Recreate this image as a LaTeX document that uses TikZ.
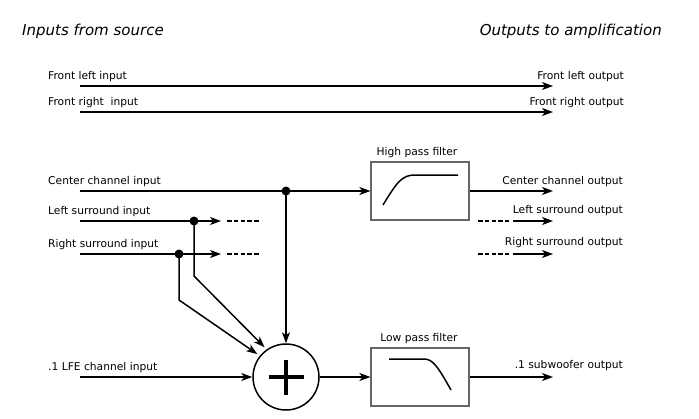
\documentclass[tikz,border=0pt]{standalone}
\usepackage{fontspec}
\setmainfont{DejaVu Sans}
\usetikzlibrary{arrows.meta}
\begin{document}
\begin{tikzpicture}[x=1pt,y=-1pt,
  line/.style={line width=1.5pt},
  arr/.style={line, -{Stealth[length=11pt,width=8pt,inset=3pt]}},
  dsh/.style={line, dash pattern=on 4.5pt off 2.3pt},
  lbl/.style={font=\fontsize{10.7}{12}\selectfont, inner sep=0pt},
  ttl/.style={font=\fontsize{15}{18}\selectfont\itshape, inner sep=0pt},
  filt/.style={draw=black!60, line width=1.2pt, minimum width=98pt, minimum height=58pt, inner sep=0pt},
  dot/.style={circle, fill=black, minimum size=9pt, inner sep=0pt},
]
\useasboundingbox[fill=white] (0,0) rectangle (699,418);

% titles
\node[ttl, anchor=base west] (tin) at (22,35) {Inputs from source};
\node[ttl, anchor=base east] (tout) at (662,35) {Outputs to amplification};

% front left / right
\coordinate (fls) at (80,86);
\coordinate (fle) at (553,86);
\draw[arr] (fls) -- (fle);
\node[lbl, anchor=base west] (fli) at (48,79) {Front left input};
\node[lbl, anchor=base east] (flo) at (624,79) {Front left output};

\coordinate (frs) at (80,112);
\coordinate (fre) at (553,112);
\draw[arr] (frs) -- (fre);
\node[lbl, anchor=base west] (fri) at (48,105) {Front right\ \ input};
\node[lbl, anchor=base east] (fro) at (624,105) {Front right output};

% center channel
\coordinate (ccs) at (80,191);
\node[dot] (cdot) at (286,191) {};
\node[filt] (hpf) at (420,191) {};
\coordinate (cce) at (553,191);
\draw[line] (ccs) -- (cdot.center);
\draw[arr] (cdot.center) -- (hpf.west);
\draw[arr] (hpf.east) -- (cce);
\node[lbl, anchor=base west] (cci) at (48,184) {Center channel input};
\node[lbl, anchor=base east] (cco) at (623,184) {Center channel output};
\node[lbl, anchor=base] (hpfl) at (417,155) {High pass filter};
\draw[line] (383,205) .. controls (397,182) and (402,175) .. (415,175) -- (458,175);

% left surround
\coordinate (lss) at (80,221);
\node[dot] (lsdot) at (194,221) {};
\coordinate (lsa) at (221,221);
\coordinate (lsd1) at (227,221);
\coordinate (lsd2) at (259,221);
\draw[arr] (lss) -- (lsa);
\draw[dsh] (lsd1) -- (lsd2);
\node[lbl, anchor=base west] (lsi) at (48,214) {Left surround input};
\coordinate (lso1) at (478,221);
\coordinate (lso2) at (509,221);
\coordinate (lso3) at (513,221);
\coordinate (lso4) at (553,221);
\draw[dsh] (lso1) -- (lso2);
\draw[arr] (lso3) -- (lso4);
\node[lbl, anchor=base east] (lso) at (623,213) {Left surround output};

% right surround
\coordinate (rss) at (80,254);
\node[dot] (rsdot) at (179,254) {};
\coordinate (rsa) at (221,254);
\coordinate (rsd1) at (227,254);
\coordinate (rsd2) at (259,254);
\draw[arr] (rss) -- (rsa);
\draw[dsh] (rsd1) -- (rsd2);
\node[lbl, anchor=base west] (rsi) at (48,247) {Right surround input};
\coordinate (rso1) at (478,254);
\coordinate (rso2) at (509,254);
\coordinate (rso3) at (513,254);
\coordinate (rso4) at (553,254);
\draw[dsh] (rso1) -- (rso2);
\draw[arr] (rso3) -- (rso4);
\node[lbl, anchor=base east] (rso) at (623,245) {Right surround output};

% summing node
\node[circle, draw, line width=1.5pt, minimum size=66pt, inner sep=0pt] (sum) at (286,377) {};
\draw[line width=4.5pt] ([xshift=-17.5pt]sum.center) -- ([xshift=17.5pt]sum.center);
\draw[line width=4.5pt] ([yshift=-17.5pt]sum.center) -- ([yshift=17.5pt]sum.center);

\coordinate (lsk) at (194,276);
\coordinate (rsk) at (179,300);
\draw[arr, shorten >=3pt] (lsdot.center) -- (lsk) -- (sum.125);
\draw[arr, shorten >=3pt] (rsdot.center) -- (rsk) -- (sum.141);
\draw[arr] (cdot.center) -- (sum.north);

% LFE
\coordinate (lfes) at (80,377);
\draw[arr] (lfes) -- (sum.west);
\node[lbl, anchor=base west] (lfei) at (48,370) {.1 LFE channel input};

\node[filt] (lpf) at (420,377) {};
\coordinate (lfee) at (553,377);
\draw[arr] (sum.east) -- (lpf.west);
\draw[arr] (lpf.east) -- (lfee);
\node[lbl, anchor=base] (lpfl) at (419,341) {Low pass filter};
\node[lbl, anchor=base east] (subo) at (623,368) {.1 subwoofer output};
\draw[line] (389,359) -- (424,359) .. controls (433,359) and (438,367) .. (451,390);
\end{tikzpicture}
\end{document}
